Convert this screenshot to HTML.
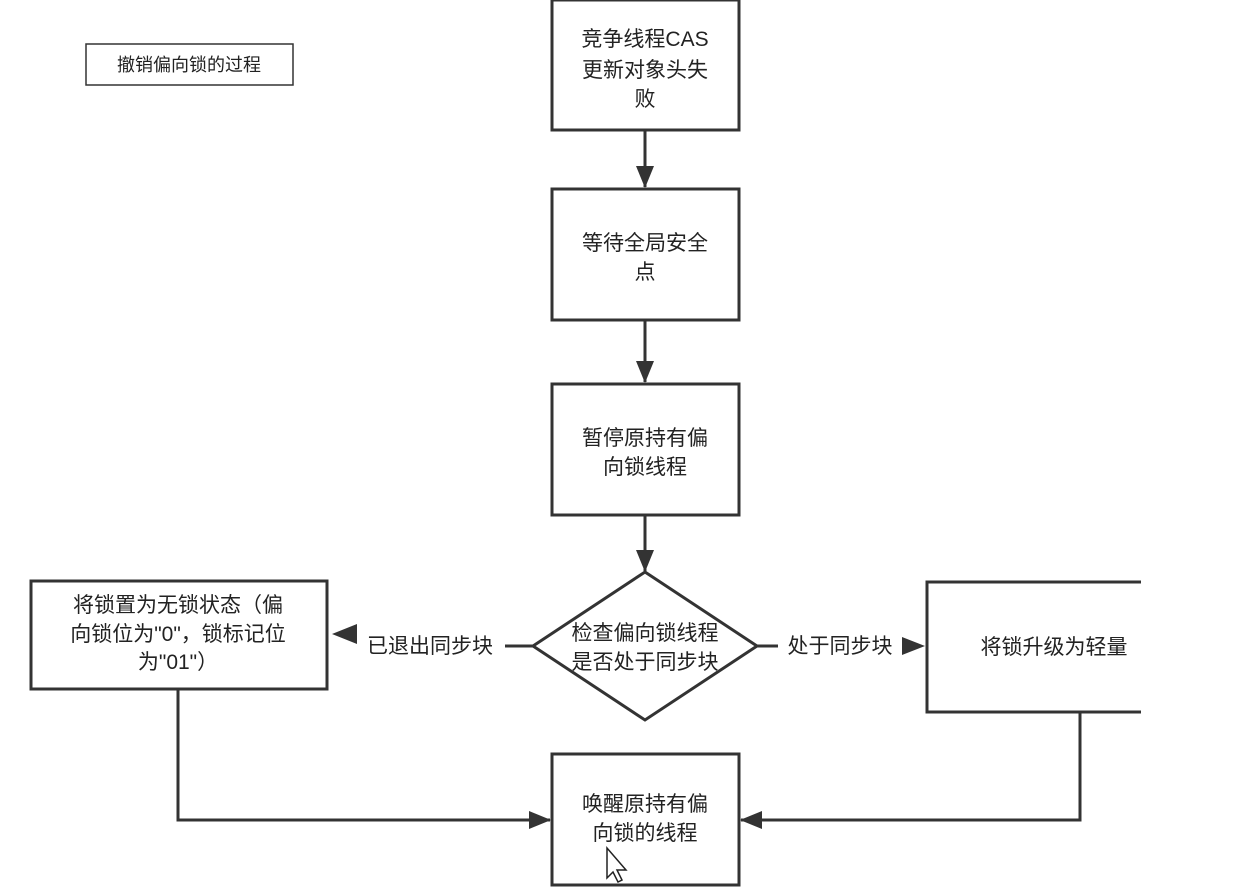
<!DOCTYPE html>
<html><head><meta charset="utf-8"><style>
html,body{margin:0;padding:0;background:#fff;width:1250px;height:890px;overflow:hidden}
svg{display:block}
text{font-family:"Liberation Sans","Noto Sans CJK SC",sans-serif;fill:#222;font-size:21px}
</style></head><body>
<svg width="1250" height="890" viewBox="0 0 1250 890">
<defs><marker id="a" markerWidth="10" markerHeight="10" refX="9" refY="5" orient="auto" markerUnits="userSpaceOnUse"><path d="M0,0 L10,5 L0,10 Z" fill="#333"/></marker>
<marker id="b" markerWidth="22" markerHeight="18" refX="21" refY="9" orient="auto" markerUnits="userSpaceOnUse"><path d="M0,0 L22,9 L0,18 Z" fill="#333"/></marker></defs>
<g fill="#fff" stroke="#333" stroke-width="3">
<rect x="86" y="44" width="207" height="41" stroke-width="1.5"/>
<rect x="552" y="0" width="187" height="130"/>
<rect x="552" y="189" width="187" height="131"/>
<rect x="552" y="384" width="187" height="131"/>
<polygon points="645,572 757,646 645,720 533,646"/>
<rect x="31" y="581" width="296" height="108"/>
<rect x="927" y="582" width="230" height="130"/>
<rect x="552" y="754" width="187" height="131"/>
</g>
<rect x="1141" y="570" width="109" height="150" fill="#fff"/>
<g stroke="#333" stroke-width="3" fill="none">
<line x1="645" y1="130" x2="645" y2="187" marker-end="url(#b)"/>
<line x1="645" y1="320" x2="645" y2="382" marker-end="url(#b)"/>
<line x1="645" y1="515" x2="645" y2="571" marker-end="url(#b)"/>
<line x1="533" y1="646" x2="505" y2="646"/>
<line x1="357" y1="634" x2="357" y2="634"/>
<line x1="757" y1="646" x2="778" y2="646"/>
<polyline points="178,689 178,820 550,820" marker-end="url(#b)"/>
<polyline points="1080,712 1080,820 741,820" marker-end="url(#b)"/>
</g>
<path d="M332,634 L357,624 L357,644 Z" fill="#333"/>
<path d="M925,646 L902,637 L902,655 Z" fill="#333"/>
<text x="189" y="71" font-size="18" text-anchor="middle" style="font-size:18px">撤销偏向锁的过程</text>
<g text-anchor="middle">
<text x="645" y="46">竞争线程CAS</text><text x="645" y="77">更新对象头失</text><text x="645" y="106">败</text>
<text x="645" y="250">等待全局安全</text><text x="645" y="279">点</text>
<text x="645" y="445">暂停原持有偏</text><text x="645" y="474">向锁线程</text>
<text x="645" y="640">检查偏向锁线程</text><text x="645" y="669">是否处于同步块</text>
<text x="178" y="612">将锁置为无锁状态（偏</text><text x="178" y="641">向锁位为"0"，锁标记位</text><text x="178" y="669">为"01"）</text>
<text x="1054" y="654">将锁升级为轻量</text>
<text x="645" y="811">唤醒原持有偏</text><text x="645" y="840">向锁的线程</text>
<text x="430" y="653">已退出同步块</text>
<text x="840" y="653">处于同步块</text>
</g>
<path d="M607,848 L607,878 L613,872 L618,882 L622,880 L617,870 L626,870 Z" fill="#fff" stroke="#222" stroke-width="1.5"/>
</svg>
</body></html>
